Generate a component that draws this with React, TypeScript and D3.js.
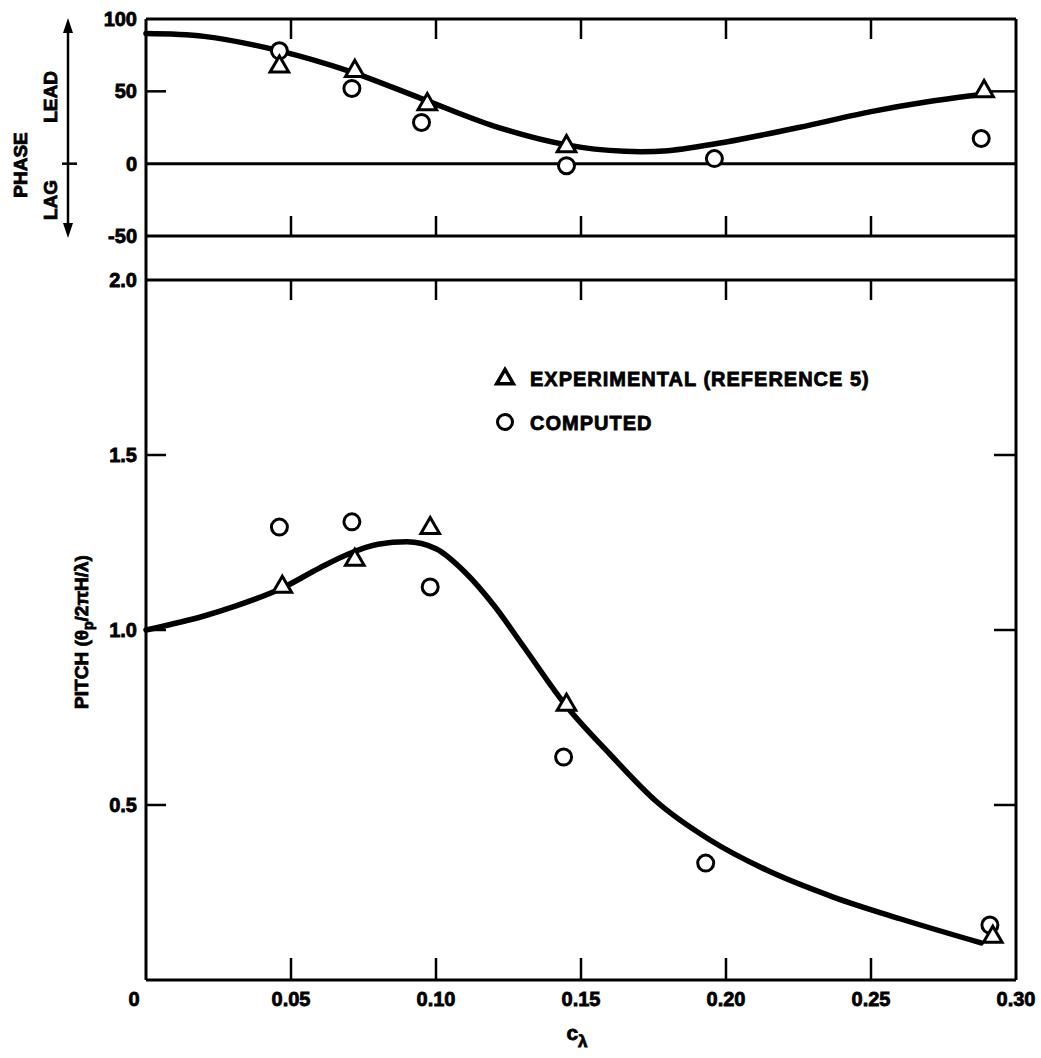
import React from "react";
import * as d3 from "d3";

// c_lambda axis ticks
const xTicks = [0, 0.05, 0.1, 0.15, 0.2, 0.25, 0.3];
const xTickLabels = ["0", "0.05", "0.10", "0.15", "0.20", "0.25", "0.30"];
const phaseTicks = [100, 50, 0, -50];
const pitchTicks = [2.0, 1.5, 1.0, 0.5];

// phase panel (degrees)
const phaseCurveX = [0, 0.02, 0.046, 0.07, 0.095, 0.12, 0.145, 0.165, 0.18, 0.2, 0.225, 0.25, 0.27, 0.289];
const phaseCurveY = [90, 88, 78, 64, 45, 26, 13, 8.5, 9, 15, 25, 36, 43, 48];
const phaseExpX = [0.046, 0.072, 0.097, 0.145, 0.289];
const phaseExpY = [67, 64, 41, 12, 50];
const phaseCompX = [0.046, 0.071, 0.095, 0.145, 0.196, 0.288];
const phaseCompY = [78, 52, 28.5, -1.4, 3.5, 17.4];

// pitch panel
const pitchCurveX = [0, 0.02, 0.03, 0.047, 0.06, 0.07, 0.08, 0.09, 0.1, 0.11, 0.12, 0.13, 0.145, 0.16, 0.176, 0.1945, 0.214, 0.237, 0.26, 0.288];
const pitchCurveY = [1.0, 1.04, 1.066, 1.12, 1.178, 1.218, 1.245, 1.252, 1.232, 1.165, 1.07, 0.955, 0.782, 0.645, 0.51, 0.4, 0.314, 0.237, 0.175, 0.106];
const pitchExpX = [0.047, 0.072, 0.098, 0.145, 0.292];
const pitchExpY = [1.123, 1.2, 1.291, 0.786, 0.123];
const pitchCompX = [0.046, 0.071, 0.098, 0.144, 0.193, 0.291];
const pitchCompY = [1.294, 1.309, 1.123, 0.637, 0.334, 0.157];

const legendLabels = ["EXPERIMENTAL (REFERENCE 5)", "COMPUTED"];

const FONT = "'Liberation Sans', Arial, sans-serif";
const W = 1041;
const H = 1058;

export default function App() {
  const x = d3.scaleLinear().domain([0, 0.3]).range([146, 1016]);
  const yPhase = d3.scaleLinear().domain([-50, 100]).range([236, 19]);
  const yPitch = d3.scaleLinear().domain([0, 2.0]).range([980, 280]);

  const phaseLine = d3
    .line<number>()
    .x((d, i) => x(phaseCurveX[i]))
    .y((d) => yPhase(d))
    .curve(d3.curveCatmullRom.alpha(0.5));
  const pitchLine = d3
    .line<number>()
    .x((d, i) => x(pitchCurveX[i]))
    .y((d) => yPitch(d))
    .curve(d3.curveMonotoneX);

  const tri = d3.symbol(d3.symbolTriangle, 150)();
  const triSmall = d3.symbol(d3.symbolTriangle, 120)();

  const left = x(0);
  const right = x(0.3);
  const innerX = xTicks.slice(1, -1);

  // scanned lettering is heavy, so give the text a thin outline
  const heavy = { fontFamily: FONT, fontWeight: 700, stroke: "#000", strokeWidth: 0.8 };

  return (
    <svg width={W} height={H} style={{ position: "absolute", left: 0, top: 0, background: "#fff" }}>
      {/* frame & horizontal rules */}
      <g stroke="#000" strokeWidth={3} fill="none">
        <line x1={left} x2={left} y1={yPhase(100)} y2={yPitch(0)} />
        <line x1={right} x2={right} y1={yPhase(100)} y2={yPitch(0)} />
        {phaseTicks.filter((t) => t !== 50).map((t) => (
          <line key={"ph" + t} x1={left} x2={right} y1={yPhase(t)} y2={yPhase(t)} />
        ))}
        <line x1={left} x2={right} y1={yPitch(2)} y2={yPitch(2)} />
        <line x1={left} x2={right} y1={yPitch(0)} y2={yPitch(0)} />
      </g>

      {/* ticks */}
      <g stroke="#000" strokeWidth={2.5}>
        {innerX.map((t) => (
          <g key={"xt" + t}>
            <line x1={x(t)} x2={x(t)} y1={yPhase(100)} y2={yPhase(100) + 20} />
            <line x1={x(t)} x2={x(t)} y1={yPhase(-50)} y2={yPhase(-50) - 20} />
            <line x1={x(t)} x2={x(t)} y1={yPitch(2)} y2={yPitch(2) + 20} />
            <line x1={x(t)} x2={x(t)} y1={yPitch(0)} y2={yPitch(0) - 22} />
          </g>
        ))}
        <line x1={left} x2={left + 20} y1={yPhase(50)} y2={yPhase(50)} />
        <line x1={right} x2={right - 26} y1={yPhase(50)} y2={yPhase(50)} />
        {pitchTicks.slice(1).map((t) => (
          <g key={"pt" + t}>
            <line x1={left} x2={left + 20} y1={yPitch(t)} y2={yPitch(t)} />
            <line x1={right} x2={right - 22} y1={yPitch(t)} y2={yPitch(t)} />
          </g>
        ))}
      </g>

      {/* tick labels */}
      <g {...heavy} fontSize={20} textAnchor="end">
        {phaseTicks.map((t) => (
          <text key={"pl" + t} x={left - 9} y={yPhase(t) + 7}>{t}</text>
        ))}
        {pitchTicks.map((t) => (
          <text key={"ql" + t} x={left - 9} y={yPitch(t) + 7}>{t.toFixed(1)}</text>
        ))}
      </g>
      <g {...heavy} fontSize={20} textAnchor="middle">
        {xTicks.map((t, i) => (
          <text key={"xl" + t} x={i === 0 ? x(t) - 12 : x(t)} y={1006}>{xTickLabels[i]}</text>
        ))}
      </g>
      <text x={x(0.15) - 4} y={1040} {...heavy} fontSize={21} textAnchor="middle">
        c<tspan dy={7} fontSize={17}>λ</tspan>
      </text>

      {/* phase side labels and arrow */}
      <g {...heavy} fontSize={19} textAnchor="middle">
        <text transform="translate(27,165) rotate(-90)">PHASE</text>
        <text transform="translate(57,97) rotate(-90)">LEAD</text>
        <text transform="translate(57,200) rotate(-90)">LAG</text>
      </g>
      <g stroke="#000" strokeWidth={2.5}>
        <line x1={68} x2={68} y1={30} y2={226} />
        <line x1={62} x2={77} y1={yPhase(0)} y2={yPhase(0)} />
      </g>
      <path d="M68,18 L63,33 L73,33 Z" fill="#000" />
      <path d="M68,238 L63,223 L73,223 Z" fill="#000" />

      {/* pitch axis label */}
      <text transform="translate(88,632) rotate(-90)" {...heavy} fontSize={19} textAnchor="middle">
        PITCH (θ<tspan dy={5} fontSize={14}>p</tspan><tspan dy={-5}>/2πH/λ)</tspan>
      </text>

      {/* curves */}
      <path d={phaseLine(phaseCurveY) || ""} fill="none" stroke="#000" strokeWidth={5.5} strokeLinecap="round" />
      <path d={pitchLine(pitchCurveY) || ""} fill="none" stroke="#000" strokeWidth={5.5} strokeLinecap="round" />

      {/* markers */}
      <g fill="#fff" stroke="#000" strokeWidth={3}>
        {phaseCompY.map((v, i) => (
          <circle key={"pc" + i} cx={x(phaseCompX[i])} cy={yPhase(v)} r={8} />
        ))}
        {phaseExpY.map((v, i) => (
          <path key={"pe" + i} d={tri || ""} transform={`translate(${x(phaseExpX[i])},${yPhase(v)})`} />
        ))}
        {pitchCompY.map((v, i) => (
          <circle key={"qc" + i} cx={x(pitchCompX[i])} cy={yPitch(v)} r={8} />
        ))}
        {pitchExpY.map((v, i) => (
          <path key={"qe" + i} d={tri || ""} transform={`translate(${x(pitchExpX[i])},${yPitch(v)})`} />
        ))}
      </g>

      {/* legend */}
      <g>
        <path d={triSmall || ""} transform="translate(505,379)" fill="#fff" stroke="#000" strokeWidth={3.5} />
        <circle cx={505} cy={422} r={7.5} fill="#fff" stroke="#000" strokeWidth={3} />
        <g {...heavy} fontSize={20}>
          <text x={530} y={386} letterSpacing={1}>{legendLabels[0]}</text>
          <text x={530} y={430} letterSpacing={1}>{legendLabels[1]}</text>
        </g>
      </g>
    </svg>
  );
}
